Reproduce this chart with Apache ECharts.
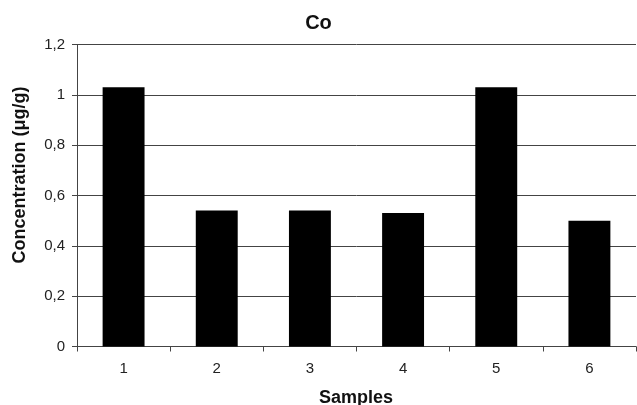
<!DOCTYPE html>
<html><head><meta charset="utf-8">
<script src="https://cdn.jsdelivr.net/npm/echarts@6/dist/echarts.min.js"></script>
<style>html,body{margin:0;padding:0;background:#fff}#c{width:637px;height:405px}</style>
</head><body><div id="c"></div>
<script>
const categories = ['1','2','3','4','5','6'];
const values = [1.03, 0.54, 0.54, 0.53, 1.03, 0.50];
const chartTitle = 'Co';
const xTitle = 'Samples';
const yTitle = 'Concentration (μg/g)';
const chart = echarts.init(document.getElementById('c'), null, {renderer:'canvas'});
const font = 'Liberation Sans, Arial, sans-serif';
chart.setOption({
  animation:false,
  backgroundColor:'#fff',
  title:{text:chartTitle,left:'center',top:8,textStyle:{fontFamily:font,fontSize:20,fontWeight:'bold',color:'#111'}},
  grid:{left:77,right:1,top:44.5,bottom:58.5},
  graphic:[
    {type:'text',x:356,y:398,style:{text:xTitle,font:'bold 18px '+font,fill:'#111',align:'center',verticalAlign:'middle'}},
    {type:'text',x:20,y:175,rotation:Math.PI/2,style:{text:yTitle,font:'bold 18px '+font,fill:'#111',align:'center',verticalAlign:'middle'}}
  ],
  xAxis:{type:'category',data:categories,
    axisLine:{lineStyle:{color:'#444',width:1}},
    axisTick:{show:true,length:5,alignWithLabel:false,lineStyle:{color:'#444'}},
    axisLabel:{fontFamily:font,fontSize:15,color:'#222',margin:15}},
  yAxis:{type:'value',min:0,max:1.2,interval:0.2,
    axisLine:{show:true,lineStyle:{color:'#444',width:1}},
    axisTick:{show:true,length:5,inside:false,lineStyle:{color:'#444'}},
    axisLabel:{fontFamily:font,fontSize:15,color:'#222',margin:12,
      formatter:v=>String(Math.round(v*10)/10).replace('.',',')},
    splitLine:{show:true,lineStyle:{color:'#444',width:1}}},
  series:[{type:'bar',data:values,barWidth:'45%',itemStyle:{color:'#000'}}]
});
</script></body></html>
